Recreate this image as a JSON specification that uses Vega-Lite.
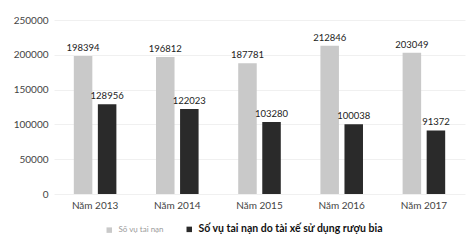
{
  "$schema": "https://vega.github.io/schema/vega-lite/v6.json",
  "width": 411,
  "height": 174,
  "autosize": "none",
  "padding": {"left": 54, "top": 20, "right": 6, "bottom": 47},
  "background": "white",
  "config": {
    "view": {"stroke": null},
    "font": "Lato",
    "axis": {"labelFont": "Lato", "labelColor": "#444", "labelFontSize": 10}
  },
  "data": {
    "values": [
      {"year": "Năm 2013", "series": "Số vụ tai nạn", "value": 198394},
      {"year": "Năm 2013", "series": "Số vụ tai nạn do tài xế sử dụng rượu bia", "value": 128956},
      {"year": "Năm 2014", "series": "Số vụ tai nạn", "value": 196812},
      {"year": "Năm 2014", "series": "Số vụ tai nạn do tài xế sử dụng rượu bia", "value": 122023},
      {"year": "Năm 2015", "series": "Số vụ tai nạn", "value": 187781},
      {"year": "Năm 2015", "series": "Số vụ tai nạn do tài xế sử dụng rượu bia", "value": 103280},
      {"year": "Năm 2016", "series": "Số vụ tai nạn", "value": 212846},
      {"year": "Năm 2016", "series": "Số vụ tai nạn do tài xế sử dụng rượu bia", "value": 100038},
      {"year": "Năm 2017", "series": "Số vụ tai nạn", "value": 203049},
      {"year": "Năm 2017", "series": "Số vụ tai nạn do tài xế sử dụng rượu bia", "value": 91372}
    ]
  },
  "encoding": {
    "x": {
      "field": "year", "type": "nominal",
      "scale": {"paddingInner": 0.482, "paddingOuter": 0.241},
      "axis": {"title": null, "labelAngle": 0, "domain": false, "ticks": false, "labelPadding": 6}
    },
    "xOffset": {
      "field": "series", "type": "nominal",
      "sort": ["Số vụ tai nạn", "Số vụ tai nạn do tài xế sử dụng rượu bia"],
      "scale": {"paddingInner": 0.23, "paddingOuter": 0}
    },
    "y": {
      "field": "value", "type": "quantitative",
      "scale": {"domain": [0, 250000], "nice": false},
      "axis": {
        "title": null, "values": [0, 50000, 100000, 150000, 200000, 250000],
        "format": "d", "domain": false, "ticks": false, "labelPadding": 6,
        "grid": true, "gridColor": "#ececec", "gridWidth": 0.8
      }
    }
  },
  "layer": [
    {
      "mark": {"type": "bar"},
      "encoding": {
        "color": {
          "field": "series", "type": "nominal",
          "sort": ["Số vụ tai nạn", "Số vụ tai nạn do tài xế sử dụng rượu bia"],
          "scale": {"range": ["#c9c9c9", "#2a2a2a"]},
          "legend": {
            "title": null, "orient": "none", "direction": "horizontal",
            "legendX": 50, "legendY": 204,
            "symbolType": "square", "symbolSize": 30, "symbolStrokeWidth": 0,
            "columnPadding": 20, "labelOffset": 4, "labelLimit": 400,
            "labelFont": "Lato",
            "encode": {
              "labels": {
                "update": {
                  "fill": {"signal": "datum.value == 'Số vụ tai nạn' ? '#9a9a9a' : '#111111'"},
                  "fontSize": {"signal": "datum.value == 'Số vụ tai nạn' ? 8 : 10.5"},
                  "fontWeight": {"signal": "datum.value == 'Số vụ tai nạn' ? 'normal' : 'bold'"}
                }
              }
            }
          }
        }
      }
    },
    {
      "mark": {"type": "text", "baseline": "bottom", "dy": -3, "fontSize": 9.5, "font": "Lato", "color": "#222"},
      "encoding": {
        "text": {"field": "value", "type": "quantitative", "format": "d"}
      }
    }
  ]
}
